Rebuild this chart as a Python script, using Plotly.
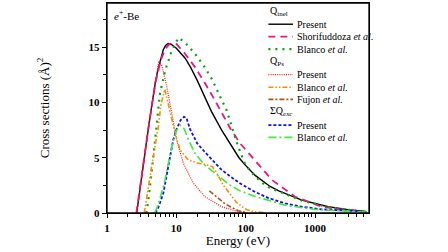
import plotly.graph_objects as go

# ---------------- data ----------------
# Q_inel, Present
inel_present_E = [2.68, 3.0, 3.5, 4.0, 4.5, 5.0, 5.5, 6.0, 6.5, 7.0, 7.6, 8.5, 10, 13.4, 16, 20, 26, 32, 45, 60, 80, 100, 137, 225, 300, 645, 1550, 3000, 5500]
inel_present_Q = [0, 2.3, 5.5, 7.9, 10.0, 11.9, 13.1, 14.1, 14.8, 15.15, 15.33, 15.25, 14.9, 14.0, 13.2, 12.0, 10.5, 9.2, 7.5, 6.3, 5.0, 4.3, 3.4, 2.4, 2.0, 1.17, 0.57, 0.3, 0.12]

# Q_inel, Shorifuddoza et al.
inel_shori_E = [2.65, 3.0, 3.5, 4.0, 5.0, 6.0, 7.0, 8.0, 9.0, 10, 13, 18.6, 25, 36, 60, 83, 122, 238, 516, 1250, 2500, 5000]
inel_shori_Q = [0, 2.4, 5.6, 7.9, 11.8, 13.9, 14.9, 15.3, 15.4, 15.3, 14.5, 13.2, 11.9, 10.2, 7.65, 6.3, 5.1, 3.0, 1.47, 0.57, 0.3, 0.15]

# Q_inel, Blanco et al.
inel_blanco_E = [3.7, 3.95, 4.5, 5.0, 5.8, 6.9, 8.6, 10.7, 13, 18.6, 25, 32, 53, 78, 100, 137, 200, 300, 645, 1500, 3000, 5500]
inel_blanco_Q = [0, 1.2, 4.2, 7.0, 10.8, 12.9, 14.7, 15.85, 15.5, 14.4, 13.3, 12.2, 9.3, 6.0, 4.3, 3.3, 2.4, 1.95, 1.12, 0.55, 0.28, 0.12]

# Q_Ps, Present
ps_present_E = [2.68, 3.0, 3.5, 4.0, 4.5, 5.0, 5.6, 6.2, 7.3, 8.6, 10.1, 12.6, 17.6, 25.9, 45, 78, 100]
ps_present_Q = [0, 2.3, 5.5, 7.9, 10.0, 12.0, 13.75, 13.3, 11.4, 9.0, 6.6, 4.5, 2.7, 1.47, 0.57, 0.12, 0.05]

# Q_Ps, Blanco et al.
ps_blanco_E = [3.45, 3.8, 4.4, 5.5, 6.0, 6.8, 7.7, 9.6, 11.3, 14.9, 20.8, 26, 33, 40, 47.7, 55, 63, 74, 90, 104, 130, 180]
ps_blanco_Q = [0, 1.8, 4.2, 7.8, 9.8, 11.2, 9.8, 7.2, 5.7, 4.8, 4.5, 4.4, 4.2, 3.4, 2.5, 2.0, 1.45, 0.95, 0.55, 0.3, 0.12, 0.03]

# Q_Ps, Fujon et al.
ps_fujon_E = [30, 36, 42.6, 50, 60, 78, 100]
ps_fujon_Q = [2.0, 1.6, 1.17, 0.85, 0.57, 0.2, 0.05]

# Sum Q_exc, Present
exc_present_E = [5.0, 5.5, 6.5, 7.3, 8.1, 9.0, 10.1, 11.5, 12.9, 14, 15.7, 20, 25.9, 45, 70, 87, 137, 213, 370, 645, 1250, 2750, 5500]
exc_present_Q = [0, 0.5, 1.8, 3.5, 5.1, 6.6, 7.6, 8.4, 8.7, 8.6, 7.6, 6.3, 5.5, 3.9, 3.0, 2.6, 1.9, 1.35, 0.87, 0.57, 0.33, 0.2, 0.12]

# Sum Q_exc, Blanco et al.
exc_blanco_E = [4.9, 5.5, 6.87, 8.58, 10.1, 11.5, 13, 15, 18.6, 25, 36, 47.7, 60, 83, 137, 225, 370, 1000, 2500, 5500]
exc_blanco_Q = [0, 0.8, 3.0, 6.0, 7.5, 7.95, 7.6, 6.6, 5.4, 4.4, 3.6, 3.0, 2.5, 2.0, 1.5, 1.1, 0.7, 0.32, 0.16, 0.08]

x_tickvals = [1, 10, 100, 1000]
y_tickvals = [0, 5, 10, 15]

# ---------------- styles ----------------
SERIF = "Liberation Serif"
series = [
    (inel_present_E, inel_present_Q, "black", 1.4, "solid"),
    (inel_shori_E, inel_shori_Q, "#F0157F", 1.8, "7px,5px"),
    (inel_blanco_E, inel_blanco_Q, "#00A800", 2.2, "2px,5px"),
    (ps_present_E, ps_present_Q, "#FF1A1A", 1.2, "1px,1.2px"),
    (ps_blanco_E, ps_blanco_Q, "#FF8A00", 1.6, "5px,2px,1.5px,2px,1.5px,2px"),
    (ps_fujon_E, ps_fujon_Q, "#A8561E", 1.6, "5px,2px,2px,2px"),
    (exc_present_E, exc_present_Q, "#1010F0", 1.8, "3px,2px"),
    (exc_blanco_E, exc_blanco_Q, "#3CEB3C", 1.6, "8px,3px,2px,3px"),
]

fig = go.Figure()
for E, Q, col, w, dash in series:
    fig.add_trace(go.Scatter(x=E, y=Q, mode="lines", showlegend=False, hoverinfo="skip",
                             line=dict(color=col, width=w, dash=dash)))

# ---------------- manual legend ----------------
legend_rows = [
    ("header", "Q<sub>inel</sub>", 0.958),
    (1, "Present", 0.899),
    (2, "Shorifuddoza <i>et al.</i>", 0.840),
    (3, "Blanco <i>et al.</i>", 0.780),
    ("header", "Q<sub>Ps</sub>", 0.720),
    (4, "Present", 0.659),
    (5, "Blanco <i>et al.</i>", 0.599),
    (6, "Fujon <i>et al.</i>", 0.541),
    ("header", "ΣQ<sub><i>exc</i></sub>", 0.482),
    (7, "Present", 0.418),
    (8, "Blanco <i>et al.</i>", 0.360),
]
x0, x1, xt = 0.616, 0.710, 0.716
for key, text, yy in legend_rows:
    if key == "header":
        fig.add_annotation(x=x0, y=yy, xref="paper", yref="paper", text=text,
                           showarrow=False, xanchor="left", yanchor="middle",
                           font=dict(family=SERIF, size=10, color="black"))
    else:
        _, _, col, w, dash = series[key - 1]
        fig.add_shape(type="line", xref="paper", yref="paper", x0=x0, x1=x1, y0=yy, y1=yy,
                      line=dict(color=col, width=w, dash=dash))
        fig.add_annotation(x=xt, y=yy, xref="paper", yref="paper", text=text,
                           showarrow=False, xanchor="left", yanchor="middle",
                           font=dict(family=SERIF, size=10, color="black"))

fig.add_annotation(x=0.018, y=0.945, xref="paper", yref="paper",
                   text="<i>e</i><sup>+</sup>-Be", showarrow=False,
                   xanchor="left", yanchor="middle",
                   font=dict(family=SERIF, size=11, color="black"))

# plot frame
fig.add_shape(type="rect", xref="paper", yref="paper", x0=0, x1=1, y0=0, y1=1,
              line=dict(color="black", width=1.3))

fig.update_layout(
    width=448, height=252,
    margin=dict(l=107, r=79, t=3, b=39),
    paper_bgcolor="white", plot_bgcolor="white",
    font=dict(family=SERIF, color="black"),
    xaxis=dict(type="log", range=[0, 3.778], tickvals=x_tickvals,
               ticktext=[str(v) for v in x_tickvals],
               ticks="outside", ticklen=4, tickwidth=1, tickcolor="black",
               showline=True, linecolor="black", linewidth=1.3, mirror=True,
               showgrid=False, zeroline=False,
               tickfont=dict(family=SERIF, size=11, weight="bold"),
               minor=dict(ticks="outside", ticklen=2.5, tickcolor="black",
                          tickvals=[2, 3, 4, 5, 6, 7, 8, 9, 20, 30, 40, 50, 60, 70, 80, 90,
                                    200, 300, 400, 500, 600, 700, 800, 900,
                                    2000, 3000, 4000, 5000]),
               title=dict(text="Energy (eV)", standoff=3,
                          font=dict(family=SERIF, size=13))),
    yaxis=dict(range=[0, 19], tickvals=y_tickvals,
               ticks="outside", ticklen=4, tickwidth=1, tickcolor="black",
               showline=True, linecolor="black", linewidth=1.3, mirror=True,
               showgrid=False, zeroline=False,
               tickfont=dict(family=SERIF, size=11, weight="bold"),
               minor=dict(ticks="outside", ticklen=2.5, tickcolor="black", dtick=2.5),
               title=dict(text="Cross sections (Å)<sup>2</sup>", standoff=36,
                          font=dict(family=SERIF, size=13))),
)

fig.write_html("out.html", config={"displayModeBar": False, "staticPlot": True},
               post_script="document.body.style.margin='0px';")
